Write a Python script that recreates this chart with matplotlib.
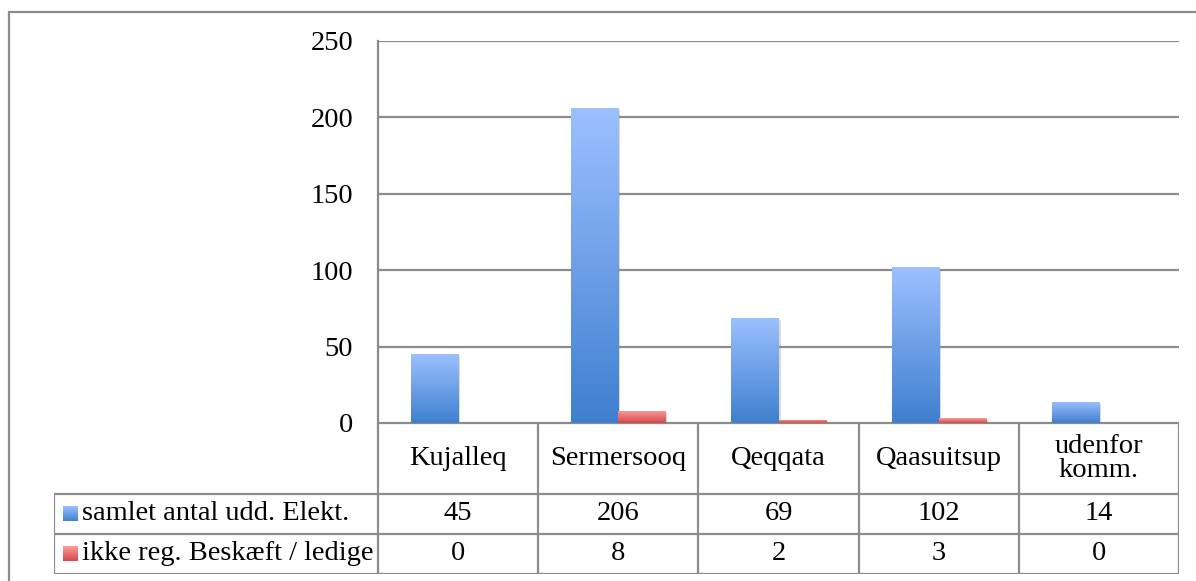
# Bar chart with data table underneath (Excel-style)
import numpy as np
import matplotlib
matplotlib.use("Agg")
from matplotlib import pyplot as plt
from matplotlib.colors import LinearSegmentedColormap
from matplotlib.patches import Rectangle
import matplotlib.patheffects as pe

categories = ["Kujalleq", "Sermersooq", "Qeqqata", "Qaasuitsup", "udenfor\nkomm."]
series_names = ["samlet antal udd. Elekt.", "ikke reg. Beskæft / ledige"]
samlet = [45, 206, 69, 102, 14]
ikke_reg = [0, 8, 2, 3, 0]
y_ticks = [0, 50, 100, 150, 200, 250]

W, H = 1196, 581
FONT = "Liberation Serif"
FS = 20.5
GRID = "#8c8c8c"

blue_cmap = LinearSegmentedColormap.from_list("b", ["#3f7fcf", "#9cc0ff"])
red_cmap = LinearSegmentedColormap.from_list("r", ["#d44848", "#ff9c9c"])


def fx(px):
    return px / W


def fy(px):
    return 1 - px / H


fig = plt.figure(figsize=(W / 100, H / 100), dpi=100)
fig.patch.set_facecolor("white")

# outer frame
fig.add_artist(Rectangle((fx(8.5), -0.2), 2, fy(12) + 0.2, transform=fig.transFigure,
                         fill=False, ec=GRID, lw=1.6))

# plot area
ax_l, ax_r, ax_t, ax_b = 378, 1179, 41, 423
ax = fig.add_axes([fx(ax_l), fy(ax_b), fx(ax_r - ax_l), (ax_b - ax_t) / H])
ax.set_facecolor("none")

grad = np.linspace(0, 1, 256).reshape(-1, 1)
w = 0.294
x = np.arange(len(categories)) + 0.5
for vals, cmap, off in [(samlet, blue_cmap, -w / 2), (ikke_reg, red_cmap, w / 2)]:
    bars = ax.bar(x + off, vals, width=w, color="none", zorder=3)
    for b, v in zip(bars, vals):
        if v == 0:
            continue
        b.set_path_effects([pe.SimplePatchShadow(offset=(1.5, -1.5), shadow_rgbFace="#888888", alpha=0.3),
                            pe.Normal()])
        b.set_facecolor("white")
        x0 = b.get_x()
        im = ax.imshow(grad, extent=[x0, x0 + w, 0, v], origin="lower", aspect="auto",
                       cmap=cmap, zorder=4, interpolation="bilinear")
        im.set_clip_path(b)

ax.set_xlim(0, len(categories))
ax.set_ylim(0, 250)
ax.set_yticks(y_ticks)
ax.set_xticks([])
ax.yaxis.grid(True, color=GRID, lw=1.6)
ax.set_axisbelow(True)
for s in ["top", "right", "bottom"]:
    ax.spines[s].set_visible(False)
ax.spines["left"].set_color(GRID)
ax.spines["left"].set_linewidth(1.6)
ax.tick_params(axis="y", length=0, pad=18, labelsize=FS)
for lab in ax.get_yticklabels():
    lab.set_fontfamily(FONT)

# data table
tab_l, tab_r, tab_t, tab_b = 54, 1179, 423, 574
tab = fig.add_axes([fx(tab_l), fy(tab_b), fx(tab_r - tab_l), (tab_b - tab_t) / H])
tab.set_xlim(tab_l, tab_r)
tab.set_ylim(tab_b, tab_t)
tab.axis("off")

col_edges = [ax_l + i * (ax_r - ax_l) / len(categories) for i in range(len(categories) + 1)]
row_edges = [tab_t, 494, 534, tab_b]
lk = dict(color=GRID, lw=1.6, solid_capstyle="projecting")

# horizontal lines
tab.plot([ax_l, ax_r], [row_edges[0]] * 2, **lk)
for yy in row_edges[1:]:
    tab.plot([tab_l, ax_r], [yy, yy], **lk)
# vertical lines
for xx in col_edges:
    tab.plot([xx, xx], [row_edges[0], row_edges[-1]], **lk)
tab.plot([tab_l, tab_l], [row_edges[1], row_edges[-1]], **lk)

for i, c in enumerate(categories):
    cx = (col_edges[i] + col_edges[i + 1]) / 2
    tab.text(cx, (row_edges[0] + row_edges[1]) / 2, c, ha="center", va="center",
             fontsize=FS, family=FONT, linespacing=0.95)

for r, (name, vals, cmap) in enumerate([(series_names[0], samlet, blue_cmap),
                                         (series_names[1], ikke_reg, red_cmap)]):
    y0, y1 = row_edges[r + 1], row_edges[r + 2]
    cy = (y0 + y1) / 2
    tab.imshow(grad, extent=[63, 78, cy + 7.5, cy - 7.5], origin="lower", aspect="auto",
               cmap=cmap, interpolation="bilinear")
    tab.text(82, cy, name, ha="left", va="center", fontsize=FS, family=FONT)
    for i, v in enumerate(vals):
        cx = (col_edges[i] + col_edges[i + 1]) / 2
        tab.text(cx, cy, str(v), ha="center", va="center", fontsize=FS, family=FONT)

tab.set_xlim(tab_l, tab_r)
tab.set_ylim(tab_b, tab_t)

fig.savefig("out.png", dpi=100)
